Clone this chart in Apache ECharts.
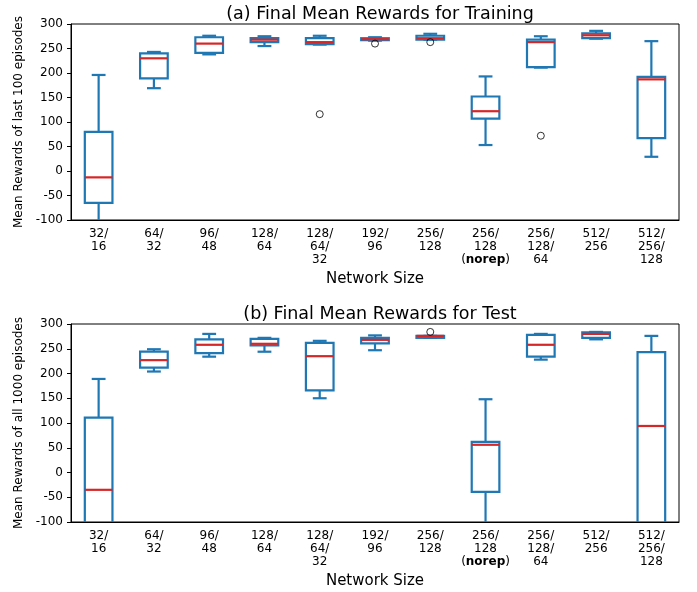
<!DOCTYPE html>
<html>
<head>
<meta charset="utf-8">
<script src="https://cdn.jsdelivr.net/npm/echarts@6/dist/echarts.min.js"></script>
<style>
  html, body { margin: 0; padding: 0; background: #fff; }
  #chart { width: 697px; height: 592px; }
</style>
</head>
<body>
<div id="chart"></div>
<script>
// network sizes on the x axis
const categories = ['32/\n16', '64/\n32', '96/\n48', '128/\n64', '128/\n64/\n32', '192/\n96',
  '256/\n128', '256/\n128\n({b|norep})', '256/\n128/\n64', '512/\n256', '512/\n256/\n128'];

// (a) training: whisker low, q1, median, q3, whisker high
const trainLow  = [-130, 169, 238, 255, 258, 266, 268, 53, 211, 270, 29];
const trainQ1   = [-65, 189, 241, 263, 259, 267, 268, 107, 212, 271, 67];
const trainMed  = [-13, 230, 260, 268, 263, 269, 271, 122, 263, 277, 187];
const trainQ3   = [80, 240, 273, 271, 271, 271, 276, 152, 268, 281, 192];
const trainHigh = [196, 243, 276, 275, 276, 273, 280, 193, 275, 286, 265];
const trainOutliers = [[4, 116], [5, 260], [6, 263], [8, 72]];

// (b) test
const testLow  = [-250, 204, 234, 244, 150, 247, 272, -160, 228, 269, -250];
const testQ1   = [-150, 212, 241, 257, 166, 261, 272, -39, 234, 272, -150];
const testMed  = [-35, 227, 258, 260, 235, 268, 276, 56, 258, 280, 94];
const testQ3   = [111, 244, 269, 270, 262, 272, 276, 62, 278, 283, 243];
const testHigh = [189, 249, 280, 272, 266, 277, 276, 148, 280, 284, 276];
const testOutliers = [[6, 284]];

const yTicks = { min: -100, max: 300, interval: 50 };

const BLUE = '#1f77b4';
const RED = '#d62728';
const FONT = 'DejaVu Sans';

function boxData(lo, q1, md, q3, hi) {
  return lo.map((v, i) => [i, v, q1[i], md[i], q3[i], hi[i]]);
}

function renderBox(params, api) {
  const i = api.value(0);
  const band = api.size([1, 0])[0];
  const hw = band * 0.25, cw = band * 0.125;
  const x = api.coord([i, 0])[0];
  const y = k => api.coord([i, api.value(k)])[1];
  const yLo = y(1), yQ1 = y(2), yMd = y(3), yQ3 = y(4), yHi = y(5);
  const ls = { stroke: BLUE, lineWidth: 2.2, fill: null };
  const ln = (x1, y1, x2, y2, st) => ({ type: 'line', shape: { x1, y1, x2, y2 }, style: st || ls });
  return {
    type: 'group',
    children: [
      ln(x, yQ1, x, yLo), ln(x, yQ3, x, yHi),
      ln(x - cw, yLo, x + cw, yLo), ln(x - cw, yHi, x + cw, yHi),
      { type: 'rect', shape: { x: x - hw, y: yQ3, width: hw * 2, height: yQ1 - yQ3 }, style: ls },
      ln(x - hw, yMd, x + hw, yMd, { stroke: RED, lineWidth: 2.2 })
    ]
  };
}

const grids = [
  { left: 71, top: 24, width: 608, height: 196 },
  { left: 71, top: 324, width: 608, height: 198 }
];

function xAxisFor(g) {
  return {
    type: 'category', gridIndex: g, data: categories,
    name: 'Network Size', nameLocation: 'middle', nameGap: 52,
    nameTextStyle: { fontFamily: FONT, fontSize: 15, color: '#000' },
    axisLine: { onZero: false, lineStyle: { color: '#000' } },
    axisTick: { alignWithLabel: true, length: 4, lineStyle: { color: '#000' } },
    axisLabel: {
      fontFamily: FONT, fontSize: 12, color: '#000', margin: 7, lineHeight: 13, interval: 0,
      rich: { b: { fontWeight: 'bold', fontFamily: FONT, fontSize: 12, color: '#000', lineHeight: 13 } }
    },
    splitLine: { show: false }
  };
}

function yAxisFor(g, name) {
  return {
    type: 'value', gridIndex: g, min: yTicks.min, max: yTicks.max, interval: yTicks.interval,
    name: name, nameLocation: 'middle', nameGap: 45,
    nameTextStyle: { fontFamily: FONT, fontSize: 12, color: '#000' },
    axisLine: { show: true, onZero: false, lineStyle: { color: '#000' } },
    axisTick: { show: true, length: 4, lineStyle: { color: '#000' } },
    axisLabel: { fontFamily: FONT, fontSize: 12, color: '#000', margin: 8 },
    splitLine: { show: false }
  };
}

function outlierSeries(g, data) {
  return {
    type: 'scatter', xAxisIndex: g, yAxisIndex: g, data: data,
    symbol: 'circle', symbolSize: 7,
    itemStyle: { color: 'rgba(0,0,0,0)', borderColor: '#000', borderWidth: 1 },
    silent: true
  };
}

const chart = echarts.init(document.getElementById('chart'));
chart.setOption({
  animation: false,
  backgroundColor: '#fff',
  title: [
    { text: '(a) Final Mean Rewards for Training', left: 375, top: 0, textAlign: 'center',
      textStyle: { fontFamily: FONT, fontSize: 17.5, fontWeight: 'normal', color: '#000' } },
    { text: '(b) Final Mean Rewards for Test', left: 375, top: 300, textAlign: 'center',
      textStyle: { fontFamily: FONT, fontSize: 17.5, fontWeight: 'normal', color: '#000' } }
  ],
  grid: grids.map(g => Object.assign({ show: true, borderColor: '#000', borderWidth: 1, backgroundColor: 'transparent' }, g)),
  xAxis: [xAxisFor(0), xAxisFor(1)],
  yAxis: [yAxisFor(0, 'Mean Rewards of last 100 episodes'), yAxisFor(1, 'Mean Rewards of all 1000 episodes')],
  series: [
    { type: 'custom', xAxisIndex: 0, yAxisIndex: 0, clip: true, renderItem: renderBox,
      data: boxData(trainLow, trainQ1, trainMed, trainQ3, trainHigh) },
    outlierSeries(0, trainOutliers),
    { type: 'custom', xAxisIndex: 1, yAxisIndex: 1, clip: true, renderItem: renderBox,
      data: boxData(testLow, testQ1, testMed, testQ3, testHigh) },
    outlierSeries(1, testOutliers)
  ]
});
</script>
</body>
</html>
